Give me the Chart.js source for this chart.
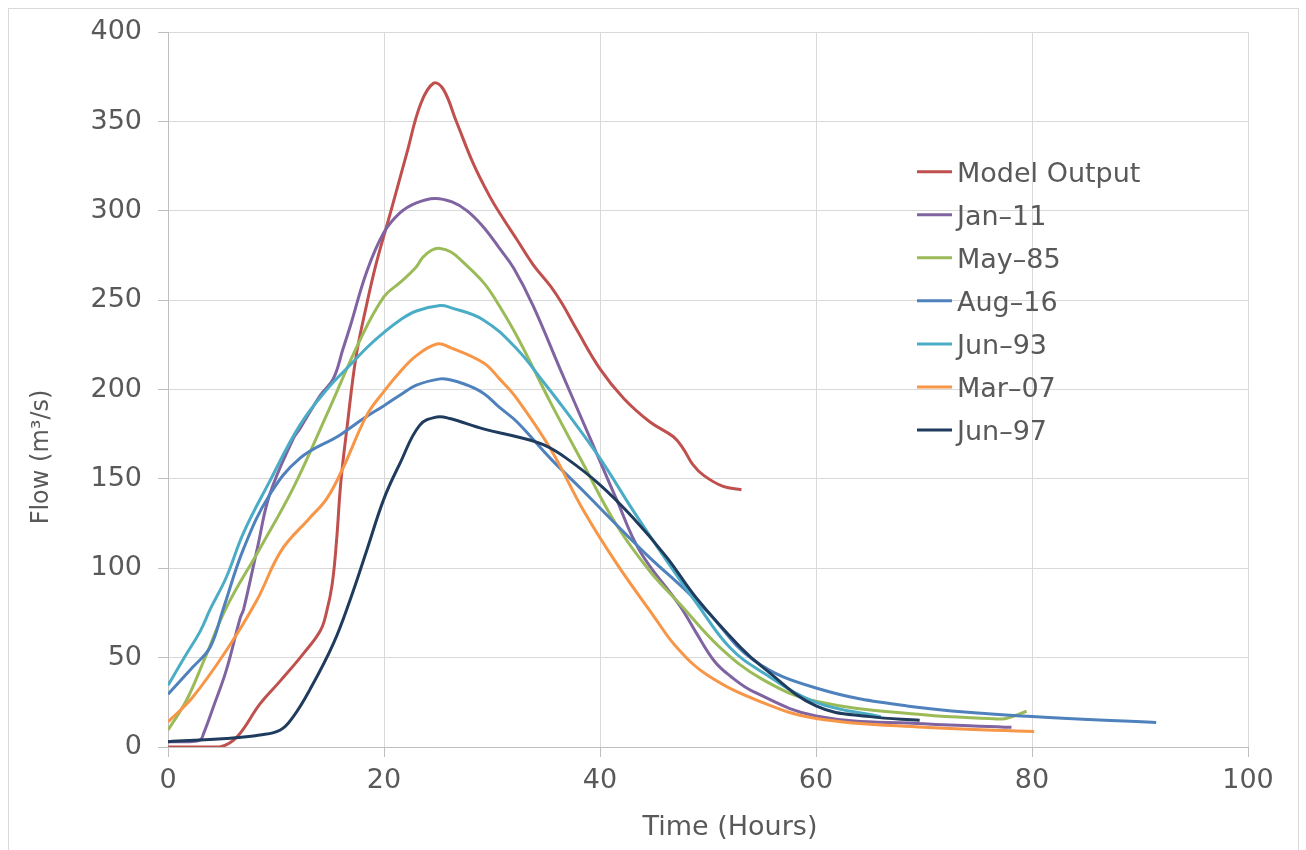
<!DOCTYPE html>
<html>
<head>
<meta charset="utf-8">
<script src="https://cdn.jsdelivr.net/npm/chart.js@4.4.0/dist/chart.umd.min.js"></script>
<style>
html,body{margin:0;padding:0;background:#fff;}
#wrap{position:relative;width:1306px;height:850px;}
canvas{display:block;}
</style>
</head>
<body>
<div id="wrap"><canvas id="c" width="1306" height="850"></canvas></div>
<script>
// ---- Data (hours, m3/s) ----
const seriesNames = ['Model Output', 'Jan\u201311', 'May\u201385', 'Aug\u201316', 'Jun\u201393', 'Mar\u201307', 'Jun\u201397'];

const modelX = [0, 2, 4.8, 6.4, 8.5, 10.4, 12.5, 14.1, 14.7, 15.2, 15.6, 16.0, 16.6, 17.4, 18.3, 19.3, 20.6, 22.1, 23.4, 24.6, 25.5, 26.7, 28.3, 29.8, 31.0, 32.3, 33.8, 35.4, 36.5, 37.8, 40.0, 42.2, 44.6, 46.8, 47.7, 48.6, 49.6, 51.4, 53.1];
const modelY = [0, 0, 0, 5.7, 24, 37, 52, 65, 76, 91, 115, 148, 180, 218, 245, 271, 299, 332, 360, 371.5, 368, 350, 326, 308, 296, 284, 270, 258, 248, 234, 211.6, 195, 182, 173.6, 167, 158, 152, 145.8, 144];

const jan11X = [0, 2, 3.0, 3.3, 4.2, 5.4, 6.7, 7.0, 8.3, 9.4, 11.6, 12.2, 14.1, 15.3, 16.2, 16.9, 18.4, 20.0, 21.5, 23.0, 24.7, 26.3, 27.7, 29.2, 30.7, 32.0, 33.8, 36.3, 39.1, 41.5, 43.7, 47.4, 48.9, 50.6, 52.0, 54.2, 60, 70, 78.1];
const jan11Y = [3, 3, 4, 7.6, 22.4, 43, 72.5, 77, 112, 141, 172.6, 178, 196.8, 206, 222.7, 236, 266, 288, 299, 304.5, 307, 305, 300, 291, 279, 268, 247, 211.6, 172.6, 139, 109.6, 79, 64, 48, 40, 31, 17.4, 13, 11];

const may85X = [0, 1.7, 3.3, 5.4, 8.5, 11.6, 14.7, 17.8, 20.0, 21.5, 22.9, 23.6, 24.4, 25.2, 26.2, 27.2, 29.2, 30.4, 32.3, 35.4, 38.5, 41.5, 44.6, 47.4, 51.1, 55, 60, 70, 76, 77.6, 79.5];
const may85Y = [9.5, 26, 48, 78, 111, 145, 186, 228, 252, 260, 268, 274, 278, 279, 277, 272, 260, 249.6, 230, 193, 157.8, 124.5, 98.5, 80, 55.8, 38, 25.6, 18, 16, 16, 20];

const aug16X = [0, 2.3, 3.9, 5.1, 7.0, 9.4, 12.2, 15.9, 18.1, 20.0, 21.5, 23.0, 25.2, 26.1, 27.5, 29.2, 30.7, 32.3, 35.4, 38.5, 41.5, 44.6, 47.7, 49.9, 54.2, 60, 68.4, 80, 91.5];
const aug16Y = [29.5, 44.7, 55.8, 77, 111, 141, 161.5, 174.5, 183.8, 191, 197, 202.5, 206, 205.5, 203, 198, 190, 182, 161.5, 143, 124.5, 106, 89, 76, 48.7, 33, 23, 17, 13.7];

const jun93X = [0, 1.5, 3.0, 3.9, 5.4, 7.0, 9.4, 12.2, 14.7, 16.9, 18.5, 20.0, 21.5, 23.0, 25.2, 26.1, 29.2, 32.3, 34.8, 36.9, 40.0, 43.1, 46.2, 49.0, 52.0, 55, 60, 66];
const jun93Y = [34.5, 50, 65, 77, 95, 120, 148.5, 180, 200, 214, 224, 232, 239, 244, 247, 246, 239, 222.7, 204, 187.5, 161.5, 132, 104, 80, 55.8, 42, 25, 17];

const mar07X = [0, 2.3, 5.4, 8.2, 10.5, 13.1, 14.7, 16.2, 18.4, 20.0, 21.5, 23.0, 24.9, 26.1, 29.2, 30.7, 32.3, 35.4, 38.5, 41.5, 45.0, 47.1, 50, 55, 60, 70, 80.2];
const mar07Y = [14, 28, 54, 81.8, 110, 128, 139, 156, 185.6, 199, 210, 219, 225.5, 223.6, 215, 206, 195, 167, 132, 103, 73, 55.8, 40, 25, 16, 11, 8.7];

const jun97X = [0, 5.4, 8.5, 10.4, 11.6, 13.1, 15.3, 16.9, 18.4, 20.0, 21.5, 23.3, 24.9, 26.1, 29.2, 32.3, 34.8, 36.9, 40.0, 43.1, 46.2, 48.9, 53.0, 55, 60, 65, 69.6];
const jun97Y = [3, 4.8, 6.7, 9.5, 17, 31.7, 57.7, 83, 110, 139, 159, 180, 184.7, 183.8, 178, 173.6, 169, 161.5, 146.7, 128, 106, 83.6, 55.8, 45, 23, 17, 15];

const xTicks = [0, 20, 40, 60, 80, 100];
const yTicks = [0, 50, 100, 150, 200, 250, 300, 350, 400];

const colors = ['#C0504D', '#8064A2', '#9BBB59', '#4F81BD', '#4BACC6', '#F79646', '#1F3B5E'];
const xs = [modelX, jan11X, may85X, aug16X, jun93X, mar07X, jun97X];
const ys = [modelY, jan11Y, may85Y, aug16Y, jun93Y, mar07Y, jun97Y];

const FONT = "'DejaVu Sans', sans-serif";
const TXT = '#595959';

const datasets = seriesNames.map((name, i) => ({
  label: name,
  data: xs[i].map((x, j) => ({ x: x, y: ys[i][j] })),
  borderColor: colors[i],
  backgroundColor: colors[i],
  borderWidth: 3,
  pointRadius: 0,
  fill: false,
  tension: 0.4,
  order: seriesNames.length - i
}));

const framePlugin = {
  id: 'frame',
  beforeDraw(chart) {
    const ctx = chart.ctx;
    ctx.save();
    ctx.fillStyle = '#ffffff';
    ctx.fillRect(0, 0, chart.width, chart.height);
    ctx.strokeStyle = '#d9d9d9';
    ctx.lineWidth = 1;
    ctx.strokeRect(8.5, 8.5, 1290, 900);
    ctx.restore();
  }
};

const annotPlugin = {
  id: 'annot',
  afterDraw(chart) {
    const ctx = chart.ctx;
    ctx.save();
    ctx.fillStyle = TXT;
    ctx.font = '27px ' + FONT;
    ctx.textAlign = 'center';
    ctx.textBaseline = 'middle';
    ctx.fillText('Time (Hours)', 730, 828);
    ctx.save();
    ctx.translate(42, 457);
    ctx.rotate(-Math.PI / 2);
    ctx.font = '24px ' + FONT;
    ctx.fillText('Flow (m\u00B3/s)', 0, 0);
    ctx.restore();
    ctx.font = '27px ' + FONT;
    ctx.textAlign = 'left';
    ctx.textBaseline = 'alphabetic';
    chart.data.datasets.forEach((ds, i) => {
      const y = 171.7 + i * 43.05;
      ctx.strokeStyle = ds.borderColor;
      ctx.lineWidth = 3;
      ctx.beginPath();
      ctx.moveTo(917, y);
      ctx.lineTo(952, y);
      ctx.stroke();
      ctx.fillStyle = TXT;
      ctx.fillText(ds.label, 957, y + 9.8);
    });
    ctx.restore();
  }
};

new Chart(document.getElementById('c'), {
  type: 'line',
  data: { datasets: datasets },
  options: {
    responsive: false,
    devicePixelRatio: 1,
    animation: false,
    layout: { padding: { left: 0, right: 58, top: 28, bottom: 0 } },
    plugins: { legend: { display: false }, tooltip: { enabled: false }, title: { display: false } },
    scales: {
      x: {
        type: 'linear',
        min: 0, max: 100,
        afterBuildTicks: (s) => { s.ticks = xTicks.map(v => ({ value: v })); },
        afterFit: (s) => { s.height = 103; },
        ticks: { color: TXT, font: { family: FONT, size: 27 }, padding: 8, maxRotation: 0 },
        grid: { color: '#d9d9d9', lineWidth: 1, tickLength: 10, tickColor: '#bfbfbf' },
        border: { color: '#bfbfbf', width: 1 }
      },
      y: {
        type: 'linear',
        min: 0, max: 400,
        afterBuildTicks: (s) => { s.ticks = yTicks.map(v => ({ value: v })); },
        afterFit: (s) => { s.width = 168; },
        ticks: { color: TXT, font: { family: FONT, size: 27 }, padding: 16 },
        grid: { color: '#d9d9d9', lineWidth: 1, tickLength: 10, tickColor: '#bfbfbf' },
        border: { color: '#bfbfbf', width: 1 }
      }
    }
  },
  plugins: [framePlugin, annotPlugin]
});
</script>
</body>
</html>
